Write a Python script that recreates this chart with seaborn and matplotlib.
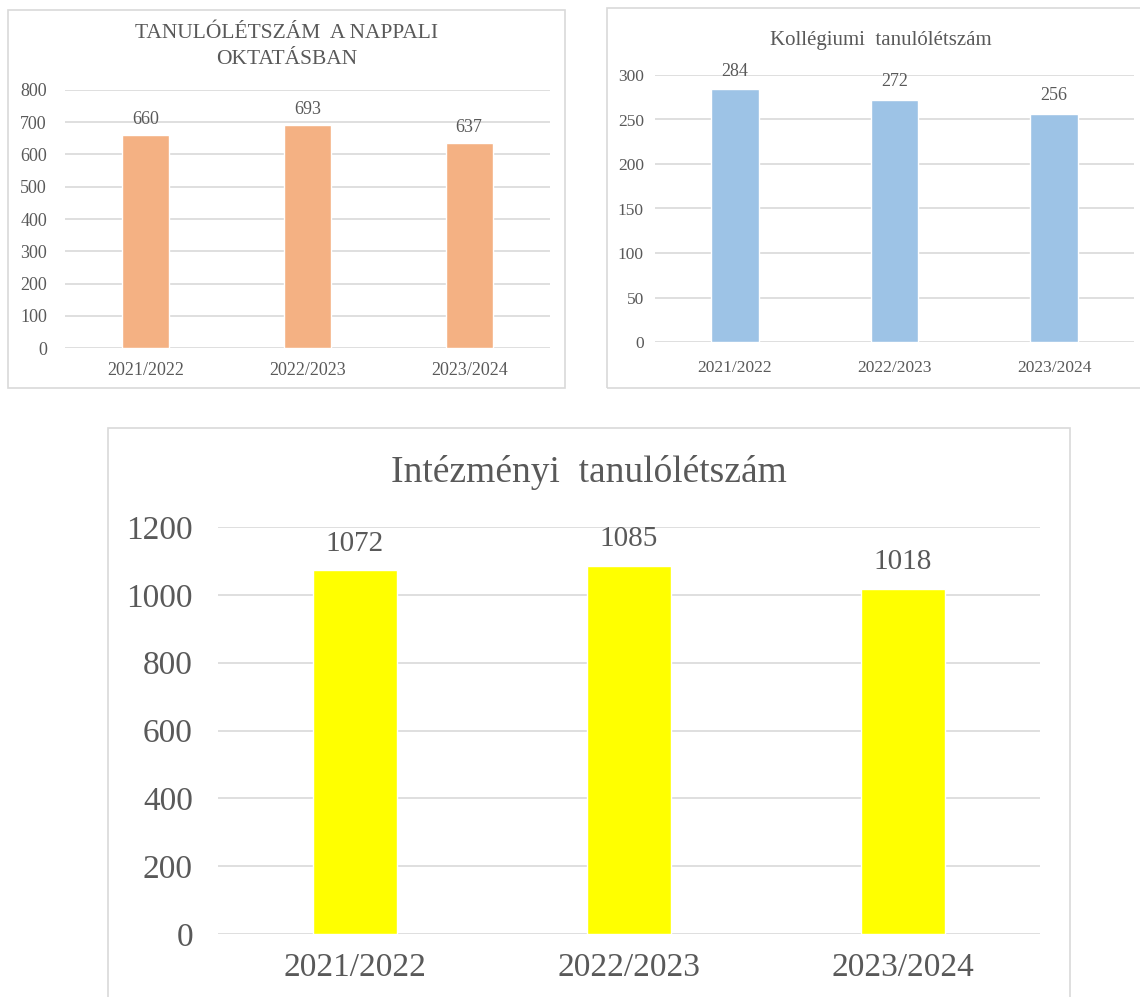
import matplotlib
matplotlib.use("Agg")
import matplotlib.pyplot as plt
import seaborn as sns
from matplotlib.patches import Rectangle

# Adatok
evek = ["2021/2022", "2022/2023", "2023/2024"]
nappali = [660, 693, 637]
kollegium = [284, 272, 256]
intezmenyi = [1072, 1085, 1018]

sns.set_style("white")
plt.rcParams["font.family"] = ["Liberation Serif", "DejaVu Serif"]
SZURKE = "#595959"
RACS = "#D9D9D9"

W, H = 1140, 997
fig = plt.figure(figsize=(W / 100, H / 100), dpi=100)


def px_axes(x0, y0, x1, y1):
    # pixel koordinatak -> figura arany
    return fig.add_axes([x0 / W, 1 - y1 / H, (x1 - x0) / W, (y1 - y0) / H])


def keret(x0, y0, x1, y1):
    fig.patches.append(Rectangle((x0 / W, 1 - y1 / H), (x1 - x0) / W, (y1 - y0) / H,
                                 transform=fig.transFigure, fill=False,
                                 edgecolor=RACS, linewidth=1.2))


def rajzol(ax, ertekek, szin, ymax, lepes, szelesseg, fs_tick, fs_val,
           ypad, xpad, lpad):
    sns.barplot(x=evek, y=ertekek, ax=ax, color=szin, saturation=1,
                width=szelesseg)
    ax.set_ylim(0, ymax)
    ax.set_xlim(-0.5, 2.5)
    ax.set_yticks(range(0, ymax + 1, lepes))
    ax.yaxis.grid(True, color=RACS, linewidth=1.2)
    ax.set_axisbelow(True)
    for s in ax.spines.values():
        s.set_visible(False)
    ax.tick_params(axis="both", length=0, colors=SZURKE)
    ax.tick_params(axis="y", labelsize=fs_tick, pad=ypad)
    ax.tick_params(axis="x", labelsize=fs_tick, pad=xpad)
    ax.set_xlabel("")
    ax.set_ylabel("")
    ax.bar_label(ax.containers[0], labels=[str(v) for v in ertekek],
                 padding=lpad, fontsize=fs_val, color=SZURKE)


# Nappali oktatas
keret(8, 10, 565, 388)
ax1 = px_axes(65, 90, 550, 348)
rajzol(ax1, nappali, "#F4B183", 800, 100, 0.29, 13, 13, 13, 10, 5)
fig.text(287 / W, 1 - 34 / H, "TANULÓLÉTSZÁM  A NAPPALI",
         ha="center", va="center", fontsize=15.5, color=SZURKE)
fig.text(287 / W, 1 - 60 / H, "OKTATÁSBAN",
         ha="center", va="center", fontsize=15.5, color=SZURKE)

# Kollegium
keret(607, 8, 1145, 388)
ax2 = px_axes(655, 75, 1134, 342)
rajzol(ax2, kollegium, "#9DC3E6", 300, 50, 0.30, 12.5, 13, 8, 13, 7)
fig.text(881 / W, 1 - 40 / H, "Kollégiumi  tanulólétszám",
         ha="center", va="center", fontsize=15, color=SZURKE)

# Intezmenyi
keret(108, 428, 1070, 1010)
ax3 = px_axes(218, 527, 1040, 934)
rajzol(ax3, intezmenyi, "#FFFF00", 1200, 200, 0.31, 24, 21, 18, 13, 10)
fig.text(589 / W, 1 - 473 / H, "Intézményi  tanulólétszám",
         ha="center", va="center", fontsize=27, color=SZURKE)

fig.savefig("out.png", dpi=100)
